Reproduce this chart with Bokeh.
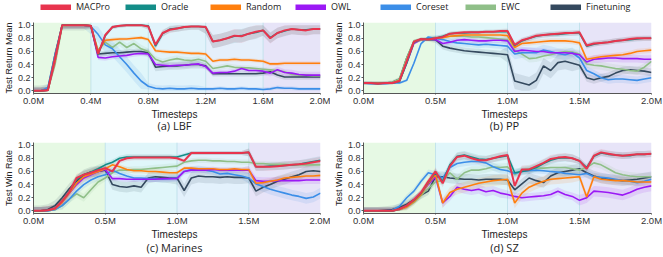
from bokeh.plotting import figure
from bokeh.layouts import column, row
from bokeh.models import (Range1d, FixedTicker, PrintfTickFormatter, BoxAnnotation,
                          Span, Legend, LegendItem)
from bokeh.core.properties import value
from bokeh.embed import file_html
from bokeh.resources import INLINE

methods = ["MACPro", "Oracle", "Random", "OWL", "Coreset", "EWC", "Finetuning"]
colors = ["#e8344e", "#138d88", "#ff7f0e", "#9b19f5", "#3b8ee8", "#8fbf88", "#34495e"]
steps = [round(i * 0.05, 2) for i in range(41)]

# ---------------- (a) LBF ----------------
lbf_macpro = [0, 0, 0.01, 0.5, 1.0, 1.0, 1.0, 1.0, 0.99, 0.56, 0.85, 0.97, 0.99, 1.0, 1.0, 1.0, 0.98, 0.70, 0.88, 0.93, 0.95,
              0.97, 0.98, 0.98, 0.97, 0.75, 0.77, 0.80, 0.84, 0.83, 0.87, 0.90, 0.92, 0.80, 0.88, 0.92, 0.94, 0.93, 0.92, 0.94, 0.94]
lbf_oracle = [0, 0, 0.01, 0.5, 1.0, 1.0, 1.0, 1.0, 0.99, 0.55, 0.84, 0.97, 0.99, 1.0, 1.0, 1.0, 0.99, 0.68, 0.87, 0.94, 0.95,
              0.97, 0.98, 0.98, 0.97, 0.75, 0.77, 0.80, 0.83, 0.84, 0.87, 0.89, 0.92, 0.81, 0.88, 0.91, 0.94, 0.93, 0.93, 0.94, 0.94]
lbf_random = [0, 0, 0.01, 0.45, 1.0, 1.0, 1.0, 1.0, 0.99, 0.6, 0.77, 0.78, 0.79, 0.79, 0.80, 0.81, 0.78, 0.61, 0.60, 0.59, 0.59,
              0.58, 0.57, 0.57, 0.56, 0.45, 0.47, 0.47, 0.48, 0.47, 0.47, 0.46, 0.45, 0.41, 0.41, 0.42, 0.42, 0.42, 0.42, 0.42, 0.42]
lbf_owl = [0, 0, 0.01, 0.45, 1.0, 1.0, 1.0, 1.0, 0.99, 0.51, 0.50, 0.52, 0.53, 0.54, 0.56, 0.57, 0.56, 0.40, 0.39, 0.38, 0.39,
           0.39, 0.40, 0.41, 0.37, 0.27, 0.28, 0.28, 0.30, 0.34, 0.31, 0.31, 0.30, 0.27, 0.32, 0.28, 0.27, 0.25, 0.24, 0.24, 0.24]
lbf_coreset = [0, 0, 0.05, 0.55, 1.0, 1.0, 1.0, 1.0, 0.98, 0.86, 0.70, 0.64, 0.52, 0.40, 0.27, 0.15, 0.07, 0.04, 0.03, 0.04, 0.03,
               0.03, 0.04, 0.03, 0.03, 0.03, 0.04, 0.03, 0.03, 0.04, 0.03, 0.03, 0.02, 0.03, 0.05, 0.04, 0.04, 0.03, 0.03, 0.03, 0.03]
lbf_ewc = [0, 0, 0.01, 0.4, 0.98, 1.0, 1.0, 1.0, 0.98, 0.62, 0.74, 0.66, 0.74, 0.66, 0.72, 0.64, 0.60, 0.48, 0.44, 0.47, 0.49,
           0.47, 0.46, 0.48, 0.45, 0.34, 0.36, 0.38, 0.36, 0.35, 0.35, 0.34, 0.33, 0.32, 0.31, 0.29, 0.25, 0.24, 0.24, 0.23, 0.23]
lbf_finetuning = [0, 0, 0.02, 0.55, 1.0, 1.0, 1.0, 1.0, 0.99, 0.56, 0.57, 0.58, 0.58, 0.59, 0.60, 0.60, 0.58, 0.36, 0.37, 0.38, 0.38,
                  0.39, 0.40, 0.40, 0.38, 0.26, 0.26, 0.26, 0.26, 0.26, 0.26, 0.26, 0.27, 0.29, 0.24, 0.21, 0.21, 0.21, 0.21, 0.21, 0.21]
lbf_band = [[0.05, 0.03, 0.05, 0.10, 0.08], [0.05, 0.03, 0.05, 0.10, 0.08], [0.05, 0.03, 0.03, 0.03, 0.03],
            [0.05, 0.04, 0.04, 0.04, 0.05], [0.05, 0.12, 0.05, 0.03, 0.03], [0.05, 0.06, 0.05, 0.04, 0.03],
            [0.08, 0.04, 0.06, 0.04, 0.04]]

# ---------------- (b) PP ----------------
pp_macpro = [0.12, 0.12, 0.11, 0.12, 0.12, 0.15, 0.45, 0.75, 0.79, 0.78, 0.80, 0.82, 0.87, 0.88, 0.89, 0.89, 0.89, 0.90, 0.90, 0.91, 0.91,
             0.70, 0.77, 0.80, 0.84, 0.85, 0.86, 0.87, 0.88, 0.88, 0.89, 0.69, 0.72, 0.73, 0.74, 0.76, 0.77, 0.79, 0.80, 0.80, 0.80]
pp_oracle = [0.12, 0.12, 0.11, 0.12, 0.12, 0.14, 0.42, 0.74, 0.79, 0.79, 0.80, 0.83, 0.87, 0.88, 0.88, 0.89, 0.89, 0.90, 0.90, 0.90, 0.90,
             0.69, 0.76, 0.80, 0.83, 0.85, 0.86, 0.86, 0.87, 0.88, 0.88, 0.68, 0.71, 0.73, 0.74, 0.76, 0.77, 0.78, 0.79, 0.80, 0.80]
pp_random = [0.12, 0.12, 0.12, 0.12, 0.12, 0.16, 0.45, 0.74, 0.78, 0.79, 0.80, 0.81, 0.83, 0.84, 0.85, 0.85, 0.85, 0.85, 0.85, 0.85, 0.84,
             0.66, 0.72, 0.73, 0.74, 0.75, 0.76, 0.76, 0.76, 0.75, 0.73, 0.48, 0.50, 0.52, 0.53, 0.54, 0.55, 0.57, 0.60, 0.61, 0.62]
pp_owl = [0.12, 0.12, 0.12, 0.12, 0.12, 0.15, 0.42, 0.72, 0.78, 0.79, 0.78, 0.72, 0.74, 0.77, 0.78, 0.77, 0.76, 0.76, 0.77, 0.77, 0.76,
          0.60, 0.62, 0.61, 0.60, 0.60, 0.58, 0.58, 0.58, 0.57, 0.55, 0.44, 0.48, 0.49, 0.50, 0.50, 0.49, 0.49, 0.49, 0.48, 0.48]
pp_coreset = [0.12, 0.11, 0.11, 0.11, 0.12, 0.12, 0.16, 0.42, 0.72, 0.82, 0.80, 0.78, 0.75, 0.73, 0.72, 0.71, 0.70, 0.71, 0.70, 0.69, 0.68,
              0.56, 0.58, 0.58, 0.58, 0.62, 0.60, 0.57, 0.55, 0.58, 0.50, 0.31, 0.26, 0.20, 0.17, 0.18, 0.18, 0.17, 0.16, 0.18, 0.20]
pp_ewc = [0.12, 0.12, 0.12, 0.12, 0.13, 0.18, 0.50, 0.76, 0.78, 0.79, 0.80, 0.82, 0.83, 0.83, 0.83, 0.82, 0.82, 0.81, 0.80, 0.79, 0.78,
          0.62, 0.56, 0.49, 0.50, 0.53, 0.55, 0.58, 0.60, 0.59, 0.56, 0.41, 0.39, 0.38, 0.36, 0.34, 0.33, 0.31, 0.30, 0.36, 0.45]
pp_finetuning = [0.12, 0.12, 0.12, 0.12, 0.13, 0.18, 0.50, 0.75, 0.78, 0.78, 0.78, 0.68, 0.65, 0.63, 0.61, 0.60, 0.59, 0.58, 0.57, 0.56, 0.55,
                 0.15, 0.12, 0.09, 0.16, 0.38, 0.31, 0.43, 0.45, 0.42, 0.39, 0.20, 0.17, 0.20, 0.22, 0.27, 0.31, 0.32, 0.31, 0.30, 0.28]
pp_band = [[0.02, 0.03, 0.04, 0.04], [0.02, 0.03, 0.04, 0.04], [0.02, 0.03, 0.04, 0.04], [0.02, 0.04, 0.05, 0.06],
           [0.02, 0.05, 0.08, 0.06], [0.02, 0.04, 0.06, 0.06], [0.03, 0.05, 0.12, 0.06]]

# ---------------- (c) Marines ----------------
mar_macpro = [0, 0, 0.01, 0.04, 0.15, 0.29, 0.50, 0.55, 0.58, 0.62, 0.65, 0.60, 0.76, 0.80, 0.81, 0.81, 0.81, 0.81, 0.81, 0.81, 0.80,
              0.76, 0.88, 0.88, 0.88, 0.88, 0.88, 0.88, 0.88, 0.88, 0.89, 0.67, 0.67, 0.67, 0.68, 0.69, 0.70, 0.71, 0.72, 0.74, 0.76]
mar_oracle = [0, 0, 0.01, 0.04, 0.15, 0.29, 0.48, 0.55, 0.59, 0.64, 0.70, 0.74, 0.80, 0.82, 0.82, 0.82, 0.82, 0.82, 0.82, 0.82, 0.82,
              0.85, 0.88, 0.88, 0.88, 0.88, 0.88, 0.88, 0.88, 0.88, 0.89, 0.67, 0.67, 0.68, 0.68, 0.69, 0.70, 0.71, 0.73, 0.75, 0.77]
mar_random = [0, 0, 0.01, 0.03, 0.13, 0.27, 0.42, 0.52, 0.56, 0.60, 0.64, 0.70, 0.67, 0.63, 0.61, 0.61, 0.60, 0.60, 0.59, 0.58, 0.58,
              0.65, 0.65, 0.64, 0.64, 0.64, 0.63, 0.63, 0.64, 0.63, 0.63, 0.42, 0.43, 0.45, 0.47, 0.50, 0.51, 0.52, 0.53, 0.53, 0.54]
mar_owl = [0, 0, 0.01, 0.03, 0.13, 0.27, 0.40, 0.50, 0.55, 0.60, 0.63, 0.49, 0.49, 0.48, 0.48, 0.48, 0.48, 0.48, 0.49, 0.49, 0.49,
           0.60, 0.62, 0.62, 0.62, 0.63, 0.62, 0.62, 0.62, 0.62, 0.62, 0.46, 0.45, 0.45, 0.46, 0.46, 0.46, 0.46, 0.47, 0.47, 0.47]
mar_coreset = [0, 0, 0, 0.02, 0.08, 0.18, 0.30, 0.40, 0.47, 0.52, 0.55, 0.62, 0.57, 0.53, 0.50, 0.50, 0.49, 0.49, 0.48, 0.49, 0.50,
               0.60, 0.63, 0.64, 0.62, 0.60, 0.56, 0.57, 0.55, 0.53, 0.50, 0.41, 0.37, 0.33, 0.30, 0.27, 0.24, 0.22, 0.19, 0.21, 0.27]
mar_ewc = [0, 0, 0, 0.02, 0.08, 0.18, 0.26, 0.20, 0.32, 0.44, 0.50, 0.58, 0.62, 0.62, 0.63, 0.63, 0.64, 0.65, 0.66, 0.67, 0.68,
           0.74, 0.76, 0.77, 0.77, 0.76, 0.76, 0.75, 0.75, 0.74, 0.74, 0.72, 0.72, 0.71, 0.71, 0.71, 0.70, 0.70, 0.70, 0.70, 0.70]
mar_finetuning = [0, 0, 0.02, 0.08, 0.20, 0.34, 0.45, 0.55, 0.59, 0.60, 0.62, 0.40, 0.37, 0.36, 0.38, 0.36, 0.50, 0.52, 0.51, 0.50, 0.50,
                  0.31, 0.50, 0.53, 0.52, 0.52, 0.51, 0.52, 0.51, 0.51, 0.50, 0.30, 0.36, 0.40, 0.45, 0.48, 0.52, 0.55, 0.60, 0.61, 0.60]
mar_band = [[0.06, 0.04, 0.03, 0.06], [0.06, 0.04, 0.03, 0.06], [0.06, 0.04, 0.03, 0.05], [0.06, 0.04, 0.04, 0.06],
            [0.06, 0.05, 0.05, 0.08], [0.06, 0.05, 0.04, 0.04], [0.08, 0.08, 0.10, 0.08]]

# ---------------- (d) SZ ----------------
sz_macpro = [0, 0, 0, 0, 0, 0.03, 0.08, 0.17, 0.28, 0.45, 0.60, 0.42, 0.68, 0.82, 0.84, 0.80, 0.77, 0.77, 0.80, 0.83, 0.85,
             0.38, 0.63, 0.63, 0.68, 0.73, 0.79, 0.81, 0.82, 0.80, 0.76, 0.64, 0.84, 0.89, 0.87, 0.85, 0.84, 0.85, 0.86, 0.86, 0.87]
sz_oracle = [0, 0, 0, 0, 0, 0.03, 0.08, 0.16, 0.27, 0.44, 0.58, 0.45, 0.70, 0.83, 0.85, 0.82, 0.79, 0.78, 0.80, 0.82, 0.84,
             0.58, 0.60, 0.62, 0.66, 0.72, 0.77, 0.80, 0.81, 0.80, 0.76, 0.66, 0.83, 0.88, 0.86, 0.85, 0.84, 0.84, 0.86, 0.86, 0.87]
sz_random = [0, 0, 0, 0, 0, 0.02, 0.06, 0.14, 0.25, 0.42, 0.55, 0.12, 0.28, 0.33, 0.36, 0.39, 0.42, 0.44, 0.46, 0.47, 0.48,
             0.12, 0.27, 0.36, 0.41, 0.45, 0.48, 0.49, 0.50, 0.51, 0.52, 0.21, 0.52, 0.48, 0.47, 0.46, 0.46, 0.45, 0.44, 0.44, 0.44]
sz_owl = [0, 0, 0, 0, 0, 0.02, 0.07, 0.16, 0.27, 0.40, 0.52, 0.12, 0.22, 0.36, 0.33, 0.31, 0.33, 0.29, 0.31, 0.27, 0.25,
          0.22, 0.20, 0.21, 0.22, 0.23, 0.25, 0.30, 0.25, 0.22, 0.16, 0.20, 0.30, 0.29, 0.28, 0.26, 0.24, 0.28, 0.33, 0.36, 0.38]
sz_coreset = [0, 0, 0, 0, 0.01, 0.07, 0.20, 0.30, 0.45, 0.58, 0.55, 0.50, 0.66, 0.72, 0.74, 0.75, 0.75, 0.73, 0.67, 0.63, 0.61,
              0.57, 0.60, 0.61, 0.62, 0.61, 0.60, 0.59, 0.57, 0.56, 0.55, 0.57, 0.52, 0.51, 0.50, 0.48, 0.46, 0.45, 0.43, 0.45, 0.48]
sz_ewc = [0, 0, 0, 0, 0, 0.02, 0.06, 0.13, 0.24, 0.34, 0.44, 0.46, 0.58, 0.48, 0.58, 0.62, 0.62, 0.64, 0.67, 0.66, 0.67,
          0.55, 0.62, 0.64, 0.65, 0.65, 0.66, 0.66, 0.66, 0.64, 0.62, 0.66, 0.73, 0.70, 0.64, 0.58, 0.55, 0.53, 0.52, 0.52, 0.52]
sz_finetuning = [0, 0, 0, 0.01, 0.02, 0.05, 0.10, 0.17, 0.24, 0.30, 0.52, 0.52, 0.50, 0.49, 0.48, 0.48, 0.47, 0.48, 0.48, 0.48, 0.47,
                 0.32, 0.41, 0.50, 0.46, 0.43, 0.53, 0.58, 0.60, 0.62, 0.64, 0.58, 0.53, 0.50, 0.48, 0.47, 0.46, 0.47, 0.48, 0.50, 0.52]
sz_band = [[0.05, 0.06, 0.06, 0.05], [0.05, 0.06, 0.06, 0.05], [0.05, 0.08, 0.08, 0.06], [0.05, 0.07, 0.06, 0.08],
           [0.05, 0.06, 0.05, 0.06], [0.05, 0.06, 0.06, 0.06], [0.06, 0.08, 0.08, 0.08]]

lbf_phases = [0.0, 0.4, 0.8, 1.2, 1.6, 2.0]
std_phases = [0.0, 0.5, 1.0, 1.5, 2.0]
lbf_bg = ["#e6f9e4", "#e0f6fa", "#e1f3fb", "#e5effb", "#e7e4f8"]
std_bg = ["#e6f9e4", "#e0f6fa", "#e3f1fc", "#e7e4f8"]
yticks = [0.0, 0.2, 0.4, 0.6, 0.8, 1.0]
xlabel = "Timesteps"
captions = ["(a) LBF", "(b) PP", "(c) Marines", "(d) SZ"]

AX_FONT = "Liberation Sans"
LW, RW = 330, 333
BL_L, BR_L, BL_R, BR_R = 28, 10, 27, 12


def panel(ylabel, series, bands, phases, bgs, width, bl, br, height, bt):
    p = figure(width=width, height=height, x_range=Range1d(0, 2.0), y_range=Range1d(-0.04, 1.04),
               toolbar_location=None, output_backend="svg", title=None,
               min_border_left=bl, min_border_right=br, min_border_top=bt, min_border_bottom=0)
    p.outline_line_color = None
    p.grid.visible = False
    for i in range(len(phases) - 1):
        p.add_layout(BoxAnnotation(left=phases[i], right=phases[i + 1], fill_color=bgs[i], fill_alpha=1.0,
                                   line_color=None, level="underlay"))
    for b in phases[1:-1]:
        p.add_layout(Span(location=b, dimension="height", line_color="#b9dfe8", line_width=1, line_alpha=0.8,
                          level="underlay"))
    plen = phases[1] - phases[0]
    nph = len(phases) - 1
    for vals, band, c in zip(series, bands, colors):
        lo, hi = [], []
        for x, v in zip(steps, vals):
            k = min(int(x / plen + 1e-9), nph - 1)
            s = band[k]
            lo.append(max(v - s, 0.0))
            hi.append(min(v + s, 1.0))
        p.varea(x=steps, y1=lo, y2=hi, fill_color=c, fill_alpha=0.12)
    for vals, c, m in reversed(list(zip(series, colors, methods))):
        p.line(steps, vals, line_color=c, line_width=2.0 if m == "MACPro" else 1.6)
    p.xaxis.ticker = FixedTicker(ticks=phases)
    p.xaxis.formatter = PrintfTickFormatter(format="%.1fM")
    p.yaxis.ticker = FixedTicker(ticks=yticks)
    p.yaxis.formatter = PrintfTickFormatter(format="%.1f")
    p.yaxis.axis_label = ylabel
    for ax in (p.xaxis[0], p.yaxis[0]):
        ax.axis_line_color = "#555555"
        ax.major_tick_line_color = "#555555"
        ax.minor_tick_line_color = None
        ax.major_tick_in = 0
        ax.major_tick_out = 2
        ax.major_label_standoff = 1
        ax.axis_label_standoff = 1
        ax.major_label_text_font = AX_FONT
        ax.major_label_text_font_size = "9px"
        ax.major_label_text_color = "#333333"
        ax.axis_label_text_font = AX_FONT
        ax.axis_label_text_font_size = "9px"
        ax.axis_label_text_font_style = "normal"
        ax.axis_label_text_color = "#222222"
    p.xaxis.major_tick_out = 1
    p.xaxis.major_label_standoff = 0
    p.xaxis.major_label_text_font_size = "9.5px"
    return p


def strip(cap_left, cap_right, height, y_label, y_cap):
    s = figure(width=LW + RW, height=height, x_range=Range1d(0, LW + RW), y_range=Range1d(0, height),
               toolbar_location=None, output_backend="svg", title=None, min_border=0)
    s.axis.visible = False
    s.grid.visible = False
    s.outline_line_color = None
    cx = [(BL_L + LW - BR_L) / 2, LW + (BL_R + RW - BR_R) / 2]
    s.text(x=cx, y=[y_label, y_label], text=[xlabel, xlabel], text_align="center",
           text_baseline="middle", text_font=value(AX_FONT), text_font_size="10px", text_color="#222222")
    s.text(x=cx, y=[y_cap, y_cap], text=[cap_left, cap_right], text_align="center",
           text_baseline="middle", text_font=value("Open Sans"), text_font_size="11px", text_color="#222222")
    return s


pa = panel("Test Return Mean",
           [lbf_macpro, lbf_oracle, lbf_random, lbf_owl, lbf_coreset, lbf_ewc, lbf_finetuning],
           lbf_band, lbf_phases, lbf_bg, LW, BL_L, BR_L, 95, 9)
pb = panel("Test Return Mean",
           [pp_macpro, pp_oracle, pp_random, pp_owl, pp_coreset, pp_ewc, pp_finetuning],
           pp_band, std_phases, std_bg, RW, BL_R, BR_R, 95, 9)
pc = panel("Test Win Rate",
           [mar_macpro, mar_oracle, mar_random, mar_owl, mar_coreset, mar_ewc, mar_finetuning],
           mar_band, std_phases, std_bg, LW, BL_L, BR_L, 95, 9)
pd_ = panel("Test Win Rate",
            [sz_macpro, sz_oracle, sz_random, sz_owl, sz_coreset, sz_ewc, sz_finetuning],
            sz_band, std_phases, std_bg, RW, BL_R, BR_R, 95, 9)
s_top = strip(captions[0], captions[1], 25, 19, 8)
s_bot = strip(captions[2], captions[3], 29, 23, 10)

# legend strip
leg = figure(width=LW + RW, height=13, x_range=Range1d(0, 1), y_range=Range1d(0, 1),
             toolbar_location=None, output_backend="svg", title=None, min_border=0)
leg.axis.visible = False
leg.grid.visible = False
leg.outline_line_color = None
items = []
for m, c in zip(methods, colors):
    r = leg.line([-5, -4], [-5, -5], line_color=c, line_width=6)
    items.append(LegendItem(label=m, renderers=[r]))
lg = Legend(items=items, orientation="horizontal", location=(40, 0), glyph_width=31, glyph_height=6,
            label_standoff=5, label_width=46, label_height=12, spacing=3, padding=0, margin=0,
            border_line_color=None, background_fill_alpha=0, label_text_font="Open Sans",
            label_text_font_size="9px", label_text_color="#222222", label_text_baseline="middle")
leg.add_layout(lg, "center")

layout = column(leg, row(pa, pb), s_top, row(pc, pd_), s_bot)
open("out.html", "w").write(file_html(layout, INLINE))
